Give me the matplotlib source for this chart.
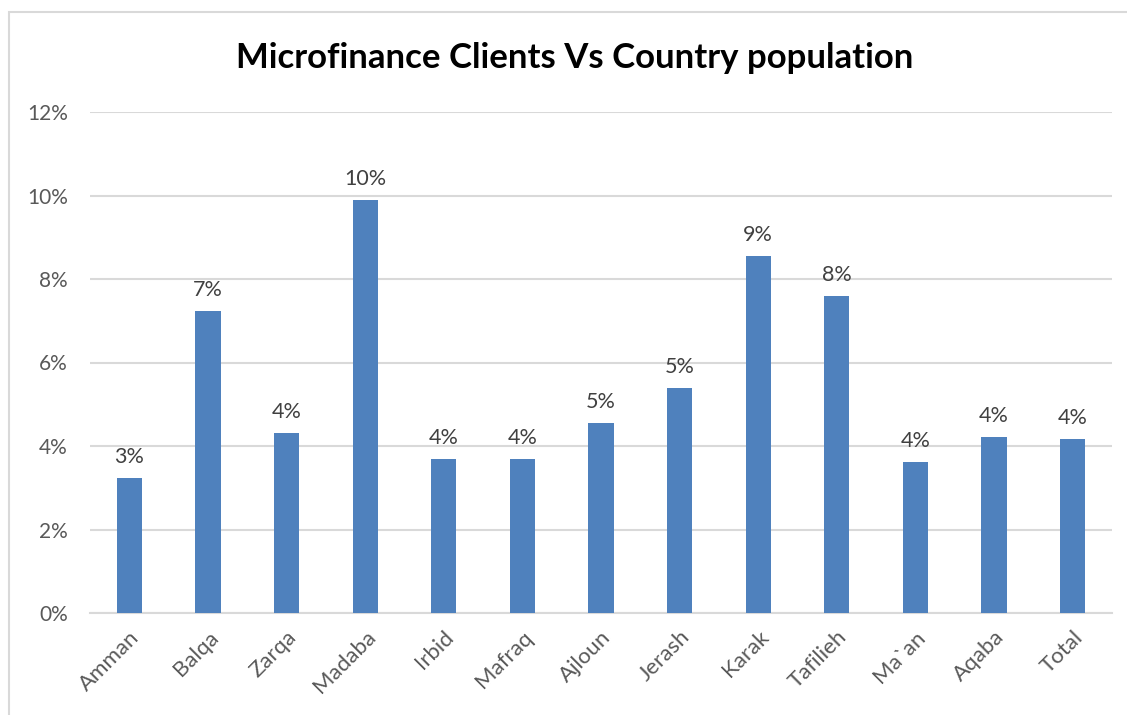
import matplotlib
matplotlib.use("Agg")
import matplotlib.pyplot as plt
from matplotlib.patches import Rectangle
from matplotlib.ticker import PercentFormatter

categories = ["Amman", "Balqa", "Zarqa", "Madaba", "Irbid", "Mafraq", "Ajloun",
              "Jerash", "Karak", "Tafilieh", "Ma`an", "Aqaba", "Total"]
values = [0.0323, 0.0723, 0.0431, 0.0989, 0.0369, 0.0369, 0.0455,
          0.0539, 0.0855, 0.0759, 0.0362, 0.0422, 0.0417]
yticks = [0, 0.02, 0.04, 0.06, 0.08, 0.10, 0.12]

plt.rcParams['font.family'] = ['Lato', 'DejaVu Sans']

fig = plt.figure(figsize=(11.27, 7.15), dpi=100)
fig.patches.append(Rectangle((9/1127, -0.1), 1.2, (715-12)/715 + 0.1,
                             transform=fig.transFigure, fill=False,
                             edgecolor='#D9D9D9', linewidth=1.5, zorder=0))

ax = fig.add_axes([90/1127, 1-613/715, (1112-90)/1127, (613-112)/715])
x = range(len(categories))
ax.bar(x, values, width=0.32, color='#4F81BD', zorder=3)
for xi, v in zip(x, values):
    ax.annotate(f"{v*100:.0f}%", (xi, v), xytext=(0, 8), textcoords='offset points',
                ha='center', va='bottom', fontsize=15.5, color='#404040')

ax.set_xlim(-0.5, len(categories) - 0.5)
ax.set_ylim(0, 0.12)
ax.set_yticks(yticks)
ax.yaxis.set_major_formatter(PercentFormatter(1.0, decimals=0))
ax.grid(axis='y', color='#D9D9D9', linewidth=1.5, zorder=0)
for s in ['top', 'right', 'left']:
    ax.spines[s].set_visible(False)
ax.spines['bottom'].set_color('#D9D9D9')
ax.spines['bottom'].set_linewidth(1.5)
ax.tick_params(axis='both', length=0, labelsize=16, colors='#595959')
ax.tick_params(axis='y', pad=16, labelsize=15)
ax.set_xticks(list(x))
ax.set_xticklabels(categories, rotation=45, ha='right', rotation_mode='anchor')
ax.tick_params(axis='x', pad=10)

fig.text(575/1127, 1-58/715, "Microfinance Clients Vs Country population",
         ha='center', va='center', fontsize=25, fontweight='bold', color='black')

fig.savefig("out.png", dpi=100, facecolor='white')
